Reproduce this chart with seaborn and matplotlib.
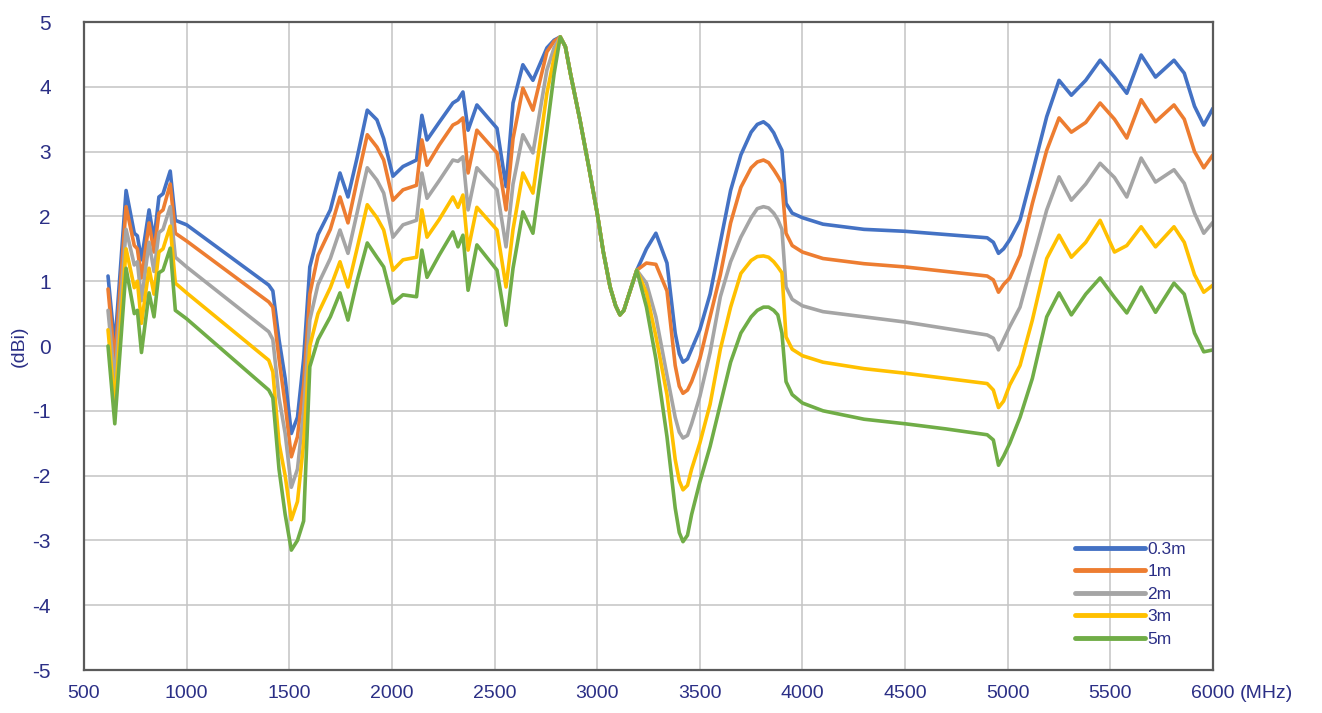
import numpy as np
import pandas as pd
import matplotlib
matplotlib.use("Agg")
import matplotlib.pyplot as plt
import seaborn as sns
from matplotlib import font_manager

freq_mhz = [617, 650, 705, 745, 760, 780, 817, 841, 865, 885, 920, 945, 1000, 1400,
            1420, 1450, 1480, 1510, 1540, 1570, 1600, 1640, 1700, 1747, 1786, 1830,
            1880, 1927, 1960, 2005, 2054, 2120, 2146, 2171, 2230, 2297, 2322, 2346,
            2371, 2414, 2512, 2556, 2590, 2638, 2687, 2755, 2790, 2820, 2845, 2870, 2916,
            2960, 3000, 3030, 3063, 3090, 3111, 3130, 3150, 3193, 3240, 3286, 3340, 3380,
            3400, 3418, 3440,
            3460, 3500, 3550, 3600, 3650, 3700, 3750, 3780, 3810, 3835, 3860, 3880, 3900,
            3920, 3950,
            4000, 4100, 4300, 4500, 4700, 4900, 4930, 4955, 4980, 5010, 5060, 5120,
            5190, 5250, 5310, 5380, 5450, 5520, 5580, 5650, 5720, 5810, 5860, 5910,
            5955, 6000]

gain_03m = [1.08, 0.0, 2.4, 1.74, 1.7, 1.33, 2.1, 1.64, 2.3, 2.35, 2.7, 1.94, 1.87, 0.94,
            0.85, 0.1, -0.5, -1.35, -1.1, -0.2, 1.22, 1.72, 2.1, 2.67, 2.3, 2.9,
            3.64, 3.49, 3.2, 2.62, 2.77, 2.87, 3.56, 3.18, 3.45, 3.75, 3.8, 3.92,
            3.33, 3.72, 3.36, 2.46, 3.75, 4.34, 4.1, 4.6, 4.72, 4.77, 4.62, 4.2, 3.49,
            2.75, 2.05, 1.45, 0.91, 0.62, 0.48, 0.55, 0.75, 1.17, 1.5, 1.74, 1.28, 0.2,
            -0.12, -0.25, -0.2,
            -0.05, 0.25, 0.8, 1.6, 2.4, 2.95, 3.3, 3.42, 3.46, 3.4, 3.29, 3.15, 3.02,
            2.2, 2.05,
            1.98, 1.88, 1.8, 1.77, 1.72, 1.67, 1.6, 1.43, 1.5, 1.64, 1.94, 2.67,
            3.54, 4.1, 3.87, 4.1, 4.41, 4.15, 3.9, 4.49, 4.15, 4.41, 4.21, 3.7,
            3.41, 3.67]

gain_1m = [0.88, -0.25, 2.15, 1.55, 1.5, 1.05, 1.9, 1.45, 2.05, 2.1, 2.5, 1.74, 1.62, 0.68,
           0.6, -0.2, -0.9, -1.71, -1.4, -0.6, 0.8, 1.4, 1.8, 2.3, 1.9, 2.55,
           3.26, 3.07, 2.87, 2.25, 2.41, 2.48, 3.18, 2.79, 3.1, 3.41, 3.45, 3.52,
           2.67, 3.33, 2.98, 2.1, 3.2, 3.98, 3.64, 4.54, 4.7, 4.77, 4.62, 4.2, 3.49,
           2.75, 2.05, 1.45, 0.91, 0.62, 0.48, 0.55, 0.75, 1.17, 1.28, 1.26, 0.85, -0.3,
           -0.62, -0.73, -0.68,
           -0.55, -0.2, 0.45, 1.1, 1.9, 2.45, 2.75, 2.84, 2.87, 2.83, 2.72, 2.62, 2.51,
           1.74, 1.55,
           1.45, 1.35, 1.27, 1.22, 1.15, 1.08, 1.02, 0.83, 0.95, 1.05, 1.4, 2.2,
           3.02, 3.52, 3.3, 3.45, 3.75, 3.5, 3.21, 3.8, 3.46, 3.72, 3.5, 3.0,
           2.75, 2.95]

gain_2m = [0.55, -0.55, 1.8, 1.25, 1.3, 0.7, 1.6, 1.15, 1.75, 1.8, 2.15, 1.37, 1.22, 0.22,
           0.1, -0.8, -1.35, -2.18, -1.9, -1.0, 0.4, 0.95, 1.35, 1.79, 1.43, 2.05,
           2.75, 2.56, 2.36, 1.68, 1.87, 1.94, 2.67, 2.28, 2.55, 2.87, 2.85, 2.92,
           2.1, 2.75, 2.41, 1.53, 2.5, 3.26, 2.98, 4.26, 4.6, 4.77, 4.62, 4.2, 3.49,
           2.75, 2.05, 1.45, 0.91, 0.62, 0.48, 0.55, 0.75, 1.17, 0.97, 0.45, -0.45, -1.1,
           -1.33, -1.42, -1.38,
           -1.2, -0.78, -0.1, 0.76, 1.3, 1.68, 1.98, 2.12, 2.15, 2.13, 2.05, 1.95, 1.8,
           0.91, 0.72,
           0.62, 0.53, 0.45, 0.37, 0.27, 0.17, 0.12, -0.06, 0.1, 0.3, 0.6, 1.3,
           2.1, 2.61, 2.25, 2.5, 2.82, 2.6, 2.3, 2.9, 2.53, 2.72, 2.51, 2.05,
           1.74, 1.91]

gain_3m = [0.25, -0.9, 1.5, 0.9, 1.0, 0.35, 1.2, 0.8, 1.45, 1.5, 1.85, 0.97, 0.82, -0.22,
           -0.4, -1.5, -2.0, -2.68, -2.4, -1.5, 0.0, 0.5, 0.9, 1.3, 0.91, 1.5,
           2.18, 1.98, 1.79, 1.17, 1.33, 1.37, 2.1, 1.68, 1.95, 2.3, 2.14, 2.33,
           1.48, 2.14, 1.79, 0.91, 1.8, 2.67, 2.36, 3.9, 4.45, 4.77, 4.62, 4.2, 3.49,
           2.75, 2.05, 1.45, 0.91, 0.62, 0.48, 0.55, 0.75, 1.17, 0.82, 0.15, -0.75, -1.75,
           -2.08, -2.22, -2.15,
           -1.9, -1.5, -0.9, -0.05, 0.6, 1.12, 1.32, 1.38, 1.39, 1.37, 1.3, 1.22, 1.13,
           0.14, -0.05,
           -0.15, -0.25, -0.35, -0.42, -0.5, -0.58, -0.68, -0.95, -0.85, -0.6, -0.3, 0.4,
           1.35, 1.71, 1.37, 1.6, 1.94, 1.45, 1.55, 1.84, 1.53, 1.84, 1.6, 1.1,
           0.83, 0.94]

gain_5m = [0.0, -1.2, 1.2, 0.5, 0.55, -0.1, 0.82, 0.45, 1.13, 1.17, 1.51, 0.55, 0.42, -0.68,
           -0.8, -1.9, -2.6, -3.15, -3.0, -2.7, -0.32, 0.1, 0.45, 0.82, 0.4, 1.0,
           1.59, 1.37, 1.22, 0.66, 0.79, 0.76, 1.48, 1.06, 1.4, 1.76, 1.53, 1.71,
           0.86, 1.56, 1.17, 0.32, 1.2, 2.07, 1.74, 3.33, 4.2, 4.77, 4.62, 4.2, 3.49,
           2.75, 2.05, 1.45, 0.91, 0.62, 0.48, 0.55, 0.75, 1.17, 0.6, -0.2, -1.4, -2.5,
           -2.88, -3.02, -2.92,
           -2.6, -2.1, -1.55, -0.9, -0.25, 0.2, 0.45, 0.55, 0.6, 0.6, 0.55, 0.48, 0.2,
           -0.55, -0.75,
           -0.88, -1.0, -1.13, -1.2, -1.28, -1.37, -1.45, -1.84, -1.7, -1.5, -1.1, -0.5,
           0.45, 0.82, 0.48, 0.8, 1.05, 0.75, 0.51, 0.91, 0.52, 0.97, 0.8, 0.2,
           -0.09, -0.06]

series_names = ["0.3m", "1m", "2m", "3m", "5m"]
series_colors = ["#4472C4", "#ED7D31", "#A5A5A5", "#FFC000", "#70AD47"]
x_ticks = [500, 1000, 1500, 2000, 2500, 3000, 3500, 4000, 4500, 5000, 5500, 6000]
y_ticks = [-5, -4, -3, -2, -1, 0, 1, 2, 3, 4, 5]

all_gains = [gain_03m, gain_1m, gain_2m, gain_3m, gain_5m]
df = pd.concat([pd.DataFrame({"freq": freq_mhz, "gain": g, "series": n})
                for g, n in zip(all_gains, series_names)], ignore_index=True)

sns.set_theme(style="white")
avail = {f.name for f in font_manager.fontManager.ttflist}
base_font = "Liberation Sans" if "Liberation Sans" in avail else "DejaVu Sans"
plt.rcParams["font.family"] = [base_font, "DejaVu Sans"]

navy = "#2B2F86"
fig = plt.figure(figsize=(13.22, 7.13), dpi=100)
ax = fig.add_axes([84 / 1322, 1 - 670 / 713, (1213 - 84) / 1322, (670 - 22) / 713])

sns.lineplot(data=df, x="freq", y="gain", hue="series", hue_order=series_names,
             palette=series_colors, linewidth=2.6, ax=ax, legend=True,
             estimator=None, sort=False)

ax.set_xlim(500, 6000)
ax.set_ylim(-5, 5)
ax.set_xticks(x_ticks)
ax.set_yticks(y_ticks)
ax.set_xticklabels([str(t) for t in x_ticks], color=navy, fontsize=14)
ax.set_yticklabels([str(t) for t in y_ticks], color=navy, fontsize=15)
ax.grid(True, color="#C4C4C4", linewidth=1.1)
ax.set_axisbelow(True)
for s in ax.spines.values():
    s.set_color("#5A5A5A")
    s.set_linewidth(1.6)
ax.tick_params(axis="y", length=4, width=1, color="#5A5A5A", pad=20)
ax.tick_params(axis="x", length=0, pad=11)
ax.set_xlabel("")
ax.set_ylabel("(dBi)", color=navy, fontsize=14)
ax.yaxis.set_label_coords((28 - 84) / 1129, 0.5)

fig.text(1240 / 1322, 1 - 693 / 713, "(MHz)", color=navy, fontsize=14,
         va="center", ha="left")

leg = ax.legend(loc="lower right", bbox_to_anchor=(0.99, 0.012), frameon=False,
                fontsize=12.5, handlelength=4.0, handletextpad=0.15, labelspacing=0.42,
                labelcolor=navy)
for line in leg.get_lines():
    line.set_linewidth(3.5)

fig.savefig("out.png", dpi=100)
